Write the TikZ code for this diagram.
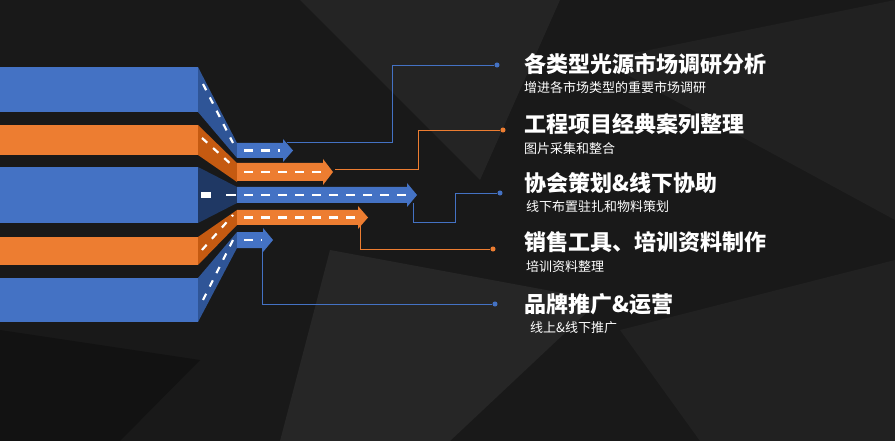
\documentclass[tikz,border=0pt]{standalone}
\usepackage{fontspec}
\newfontfamily\cjk{Noto Sans CJK SC}
\newfontfamily\cjkb{Noto Sans CJK SC Black}
\begin{document}
\begin{tikzpicture}[x=1pt,y=-1pt,
  wdash/.style={white, line width=2.2pt, dash pattern=on 9pt off 8pt},
  tt/.style={anchor=west, text=white, font=\cjkb\fontsize{22}{24}\selectfont, inner sep=0},
  st/.style={anchor=west, text=white, font=\cjk\fontsize{13}{14}\selectfont, inner sep=0},
  lk/.style={line width=0.6pt},
  dt/.style={circle, inner sep=1.8pt}]
\definecolor{B}{HTML}{4472C4}\definecolor{BD}{HTML}{2F5597}\definecolor{BF}{HTML}{1F3864}
\definecolor{O}{HTML}{ED7D31}\definecolor{OD}{HTML}{C55A11}
\useasboundingbox (0,0) rectangle (895,441);
\fill[black!90] (0,0) rectangle (895,441);
\fill[black!86] (300,0) -- (560,0) -- (480,180) -- cycle;
\fill[black!87] (600,60) -- (895,0) -- (895,220) -- cycle;
\fill[black!85] (330,250) -- (600,300) -- (450,441) -- (280,441) -- cycle;
\fill[black!87] (620,330) -- (895,260) -- (895,441) -- (700,441) -- cycle;
\fill[black!93] (0,330) -- (200,360) -- (120,441) -- (0,441) -- cycle;
% bars and faces
\fill[B] (0,67) rectangle (198,112);
\fill[BD] (198,67) -- (237,143) -- (237,158) -- (198,112) -- cycle;
\fill[O] (0,125) rectangle (198,155);
\fill[OD] (198,125) -- (237,163) -- (237,182) -- (198,155) -- cycle;
\fill[B] (0,167) rectangle (198,223);
\fill[BF] (198,167) -- (237,187) -- (237,203) -- (198,223) -- cycle;
\fill[O] (0,237) rectangle (198,265);
\fill[OD] (198,237) -- (237,210) -- (237,225) -- (198,265) -- cycle;
\fill[B] (0,278) rectangle (198,322);
\fill[BD] (198,278) -- (237,232) -- (237,248) -- (198,322) -- cycle;
% face dashes
\draw[wdash,dash pattern=on 7pt off 8pt] (203,84) -- (233,143);
\draw[wdash,dash pattern=on 7pt off 8pt] (202,138) -- (233,166);
\draw[wdash,dash pattern=on 7pt off 8pt] (202,250) -- (233,215);
\draw[wdash,dash pattern=on 7pt off 8pt] (203,300) -- (233,240);
\fill[white] (201,192) rectangle (211,198);
\draw[white,line width=2.2pt] (226,195) -- (236,195);
% arrows
\newcommand\arr[5]{\fill[#1] (237,#2) -- (#4-10,#2) -- (#4-10,#2-4) -- (#4,{(#2+#3)/2}) -- (#4-10,#3+4) -- (#4-10,#3) -- (237,#3) -- cycle;
 \draw[wdash] (244,{(#2+#3)/2}) -- (#5,{(#2+#3)/2});}
\arr{B}{143}{158}{293}{280}
\arr{O}{163}{181}{333}{322}
\arr{B}{187}{203}{417}{412}
\arr{O}{210}{225}{368}{355}
\arr{B}{232}{248}{273}{262}
% connectors
\node[dt,fill=B] (d1) at (497,65) {};
\node[dt,fill=O] (d2) at (503,130) {};
\node[dt,fill=B] (d3) at (500,193) {};
\node[dt,fill=O] (d4) at (493,249) {};
\node[dt,fill=B] (d5) at (495,304) {};
\coordinate (s1) at (287,142);\coordinate (s2) at (335,169);
\coordinate (s3) at (413,203);\coordinate (s4) at (360,225);\coordinate (s5) at (262,248);
\draw[lk,B] (s1) -- (392,142) |- (d1);
\draw[lk,O] (s2) -- (418,169) |- (d2);
\draw[lk,B] (s3) |- (455,222) |- (d3);
\draw[lk,O] (s4) |- (d4);
\draw[lk,B] (s5) |- (d5);
% texts
\node[tt] (t1) at (524,64) {各类型光源市场调研分析};
\node[st] (u1) at (524,88) {增进各市场类型的重要市场调研};
\node[tt] (t2) at (524,124) {工程项目经典案列整理};
\node[st] (u2) at (524,149) {图片采集和整合};
\node[tt] (t3) at (524,183) {协会策划\&线下协助};
\node[st] (u3) at (526,207) {线下布置驻扎和物料策划};
\node[tt] (t4) at (524,242) {销售工具、培训资料制作};
\node[st] (u4) at (526,267) {培训资料整理};
\node[tt] (t5) at (524,304) {品牌推广\&运营};
\node[st] (u5) at (530,328) {线上\&线下推广};
\end{tikzpicture}
\end{document}
